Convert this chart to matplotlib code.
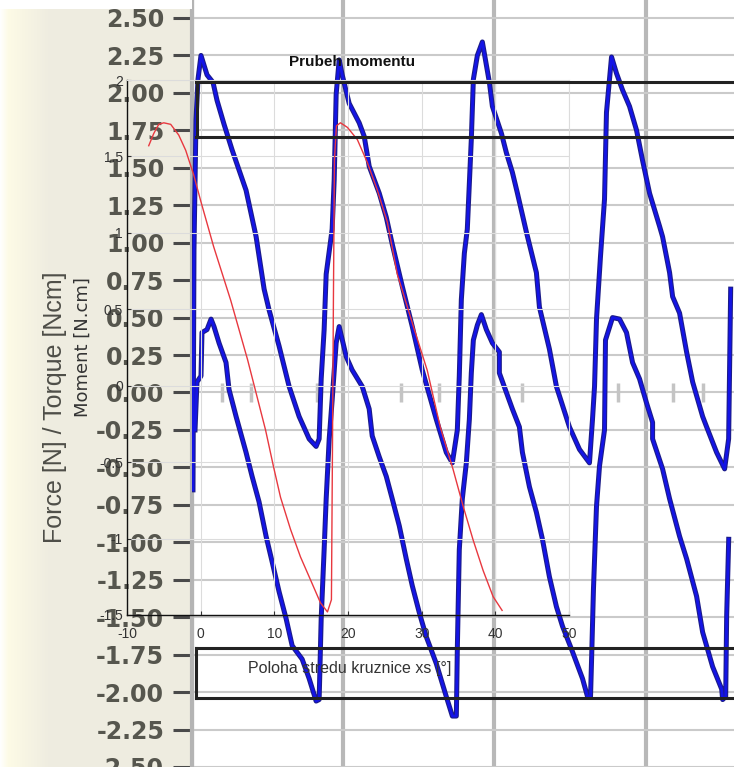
import numpy as np
import matplotlib
matplotlib.use('Agg')
import matplotlib.pyplot as plt
from matplotlib.colors import LinearSegmentedColormap
from matplotlib.lines import Line2D
from matplotlib.patches import Rectangle

# ---------------- data ----------------
# outer chart: Force [N] / Torque [Ncm]
upper_x = [0.13, 0.26, 0.53, 0.79, 1.19, 1.99, 2.78, 3.31, 4.24, 5.30,
           7.15, 8.48, 9.54, 10.20, 11.52, 12.85, 14.17, 15.50, 16.42, 16.82,
           17.09, 17.48, 17.75, 18.54, 18.81, 19.07, 19.47, 19.87, 20.79, 22.12,
           22.78, 23.44, 24.77, 25.70, 26.49, 27.81, 29.14, 30.46, 32.32, 33.64,
           34.44, 35.10, 35.36, 35.63, 36.03, 36.42, 36.95, 37.22, 37.75, 38.41,
           39.34, 39.74, 40.93, 41.59, 42.38, 43.05, 44.24, 45.56, 45.96, 47.28,
           48.21, 49.93, 51.26, 52.58, 52.98, 53.25, 53.51, 54.04, 54.57, 54.83,
           55.50, 56.16, 56.95, 57.88, 58.81, 59.60, 60.53, 61.85, 62.25, 63.18,
           63.58, 64.50, 65.43, 66.23, 67.55, 68.08, 69.40, 70.46, 70.99, 71.26]
upper_y = [-0.65, 0.95, 1.82, 2.09, 2.25, 2.12, 2.07, 1.95, 1.79, 1.62,
           1.35, 1.04, 0.69, 0.55, 0.31, 0.04, -0.16, -0.31, -0.36, -0.31,
           0.09, 0.42, 0.79, 1.09, 1.42, 1.99, 2.22, 2.12, 1.93, 1.80,
           1.71, 1.51, 1.33, 1.17, 0.99, 0.71, 0.44, 0.15, -0.18, -0.40,
           -0.47, -0.25, 0.11, 0.62, 0.93, 1.09, 1.69, 2.09, 2.25, 2.34,
           2.07, 1.91, 1.73, 1.60, 1.47, 1.33, 1.07, 0.80, 0.57, 0.29,
           0.04, -0.23, -0.38, -0.47, -0.18, 0.04, 0.49, 0.91, 1.29, 1.87,
           2.24, 2.13, 2.02, 1.91, 1.75, 1.55, 1.33, 1.11, 1.04, 0.80,
           0.64, 0.53, 0.27, 0.07, -0.16, -0.23, -0.40, -0.51, -0.31, 0.69]

lower_x = [0.40, 0.66, 1.19, 1.32, 1.99, 2.52, 2.91, 3.58, 4.50, 4.90,
           5.83, 7.15, 7.95, 8.87, 9.80, 10.60, 11.52, 12.45, 13.25, 14.57,
           15.50, 16.42, 16.82, 17.09, 17.48, 17.75, 18.15, 18.54, 19.07, 19.47,
           20.40, 21.19, 22.52, 23.44, 23.84, 24.77, 25.70, 26.49, 27.42, 28.34,
           29.14, 30.07, 30.99, 32.32, 33.64, 34.44, 34.97, 35.10, 35.36, 35.76,
           36.29, 36.69, 36.95, 37.22, 37.75, 38.28, 38.94, 39.74, 40.66, 40.66,
           41.59, 42.38, 43.31, 43.71, 44.64, 45.56, 46.36, 47.28, 48.21, 49.01,
           50.33, 51.66, 52.32, 52.72, 52.85, 53.11, 53.51, 53.91, 54.57, 54.70,
           55.63, 56.56, 57.48, 58.28, 59.21, 60.13, 60.93, 60.93, 62.25, 63.18,
           64.50, 65.43, 66.75, 67.55, 68.87, 70.07, 70.20, 70.60, 70.73, 71.00]
lower_y = [-0.25, 0.07, 0.11, 0.40, 0.42, 0.49, 0.44, 0.33, 0.20, 0.02,
           -0.16, -0.40, -0.56, -0.73, -0.96, -1.13, -1.33, -1.51, -1.69, -1.78,
           -1.91, -2.06, -2.05, -1.51, -1.05, -0.71, -0.31, -0.05, 0.33, 0.44,
           0.24, 0.15, 0.04, -0.11, -0.29, -0.43, -0.56, -0.71, -0.89, -1.11,
           -1.29, -1.47, -1.63, -1.81, -2.03, -2.16, -2.16, -1.71, -1.05, -0.71,
           -0.47, -0.18, 0.13, 0.35, 0.45, 0.52, 0.42, 0.33, 0.27, 0.13,
           0.00, -0.11, -0.23, -0.40, -0.63, -0.80, -0.98, -1.23, -1.43, -1.56,
           -1.73, -1.91, -2.03, -2.03, -1.80, -1.31, -0.76, -0.49, -0.25, 0.35,
           0.50, 0.49, 0.40, 0.20, 0.09, -0.07, -0.20, -0.31, -0.51, -0.71,
           -0.96, -1.11, -1.36, -1.60, -1.83, -1.98, -2.05, -2.03, -1.49, -0.98]

outer_yticks = [-2.50, -2.25, -2.00, -1.75, -1.50, -1.25, -1.00, -0.75, -0.50, -0.25,
                0.00, 0.25, 0.50, 0.75, 1.00, 1.25, 1.50, 1.75, 2.00, 2.25, 2.50]
outer_ytick_labels = ['-2.50', '-2.25', '-2.00', '-1.75', '-1.50', '-1.25', '-1.00',
                      '-0.75', '-0.50', '-0.25', '0.00', '0.25', '0.50', '0.75',
                      '1.00', '1.25', '1.50', '1.75', '2.00', '2.25', '2.50']
outer_xgrid = [0, 20, 40, 60]
zero_marks_x = [3.97, 7.81, 16.56, 27.68, 32.72, 43.71, 56.29, 63.58, 67.55]

# inner chart: Prubeh momentu
moment_x = [-7.05, -6.37, -5.69, -5.01, -4.07, -2.98, -2.03, -0.95, 0.00, 1.76,
            4.07, 6.37, 8.81, 9.89, 10.84, 12.20, 13.55, 14.91, 16.26, 17.21,
            17.75, 17.89, 18.02, 18.16, 18.43, 18.97, 19.92, 21.27, 22.63, 23.98,
            25.34, 26.69, 28.86, 30.76, 32.52, 34.28, 35.64, 36.99, 38.35, 39.70,
            40.92]
moment_y = [1.57, 1.65, 1.71, 1.72, 1.71, 1.64, 1.54, 1.38, 1.21, 0.91,
            0.56, 0.17, -0.29, -0.53, -0.73, -0.94, -1.12, -1.27, -1.42, -1.48,
            -1.40, -0.42, 0.56, 1.48, 1.70, 1.72, 1.69, 1.61, 1.46, 1.28,
            1.07, 0.73, 0.39, 0.10, -0.27, -0.55, -0.79, -1.01, -1.21, -1.38,
            -1.47]
inner_xticks = [-10, 0, 10, 20, 30, 40, 50]
inner_xtick_labels = ['-10', '0', '10', '20', '30', '40', '50']
inner_yticks = [-1.5, -1, -0.5, 0, 0.5, 1, 1.5, 2]
inner_ytick_labels = ['-1.5', '-1', '-0.5', '0', '0.5', '1', '1.5', '2']

# ---------------- figure ----------------
W, H = 734, 767
fig = plt.figure(figsize=(W / 100, H / 100), dpi=100)
BEIGE = '#eeece0'
fig.patch.set_facecolor(BEIGE)


def fx(px):
    return px / W


def fy(py):
    return 1 - py / H


# pale gradient at far left
gax = fig.add_axes([0, 0, 50 / W, 1])
cmap = LinearSegmentedColormap.from_list(
    'g', [(0, '#ffffff'), (0.16, '#fdfbe6'), (1, BEIGE)])
gax.imshow(np.linspace(0, 1, 256)[None, :], aspect='auto', cmap=cmap,
           extent=[0, 1, 0, 1])
gax.axis('off')

# outer axes
ax = fig.add_axes([fx(192), 0, (W - 192) / W, 1])
ax.set_facecolor('white')
ax.set_xlim(0, 71.7)
ax.set_ylim(-2.4933, 2.62)
for s in ['top', 'right', 'bottom']:
    ax.spines[s].set_visible(False)
ax.spines['left'].set_color('#b4b4b4')
ax.spines['left'].set_linewidth(3)
ax.set_yticks(outer_yticks)
ax.set_yticklabels(outer_ytick_labels, fontsize=17, fontweight='bold',
                   color='#56564e', family='DejaVu Sans')
ax.tick_params(axis='y', direction='out', length=14, width=2.2,
               color='#4a4a4a', pad=6)
ax.set_xticks(outer_xgrid)
ax.tick_params(axis='x', length=0, labelbottom=False)
ax.yaxis.grid(True, color='#cacaca', lw=1.5)
ax.xaxis.grid(True, color='#b8b8b8', lw=3)
ax.set_axisbelow(True)

ax.vlines(zero_marks_x, -0.065, 0.065, color='#c4c4c4', lw=2.5, zorder=2)

for xs, ys in [(upper_x, upper_y), (lower_x, lower_y)]:
    ax.plot(xs, ys, color='#1c1c88', lw=3.6, zorder=3)
    ax.plot(xs, ys, color='#1414e6', lw=2.0, zorder=4)

# inner axes
ax2 = fig.add_axes([fx(127), fy(615), (569 - 127) / W, (615 - 80) / H])
ax2.patch.set_alpha(0)
ax2.set_xlim(-10, 50)
ax2.set_ylim(-1.5, 2)
ax2.plot(moment_x, moment_y, color='#e8383f', lw=1.0, zorder=5)
ax2.set_xticks(inner_xticks)
ax2.set_xticklabels(inner_xtick_labels, family='Liberation Sans')
ax2.set_yticks(inner_yticks)
ax2.set_yticklabels(inner_ytick_labels, family='Liberation Sans')
ax2.tick_params(direction='in', length=3, width=0.8, labelsize=10,
                colors='#333333')
ax2.tick_params(axis='x', pad=9)
ax2.tick_params(axis='y', pad=3)
ax2.grid(True, color='#dcdcdc', lw=0.8)
for s in ['left', 'bottom']:
    ax2.spines[s].set_color('#111111')
    ax2.spines[s].set_linewidth(1.0)
for s in ['top', 'right']:
    ax2.spines[s].set_color('#dcdcdc')
    ax2.spines[s].set_linewidth(0.8)

# texts
fig.text(fx(352), fy(62), 'Prubeh momentu', ha='center', va='center',
         fontsize=11, fontweight='bold', family='Liberation Sans', color='#111111')
fig.text(fx(350), fy(668), 'Poloha stredu kruznice xs [°]', ha='center',
         va='center', fontsize=11.5, family='Liberation Sans', color='#333333')
fig.text(fx(83), fy(347), 'Moment [N.cm]', ha='center', va='center',
         rotation=90, fontsize=13, family='DejaVu Sans', color='#333333')
fig.text(fx(55), fy(407), 'Force [N] / Torque [Ncm]', ha='center', va='center',
         rotation=90, fontsize=18, family='Liberation Sans', color='#4e4e48')

# overlaid black boxes
for (x0, y0, x1, y1) in [(196, 82, W, 82), (196, 137, W, 137), (197, 82, 197, 137),
                         (196, 648, W, 648), (196, 698, W, 698), (196, 648, 196, 698)]:
    fig.add_artist(Line2D([fx(x0), fx(x1)], [fy(y0), fy(y1)], color='#222222',
                          lw=2.2, zorder=2))

# white strip at the very top-left
fig.add_artist(Rectangle((0, fy(9)), fx(192), 9 / H, transform=fig.transFigure,
                         facecolor='white', edgecolor='none', zorder=1))

fig.savefig('out.png', dpi=100, facecolor=fig.get_facecolor())
